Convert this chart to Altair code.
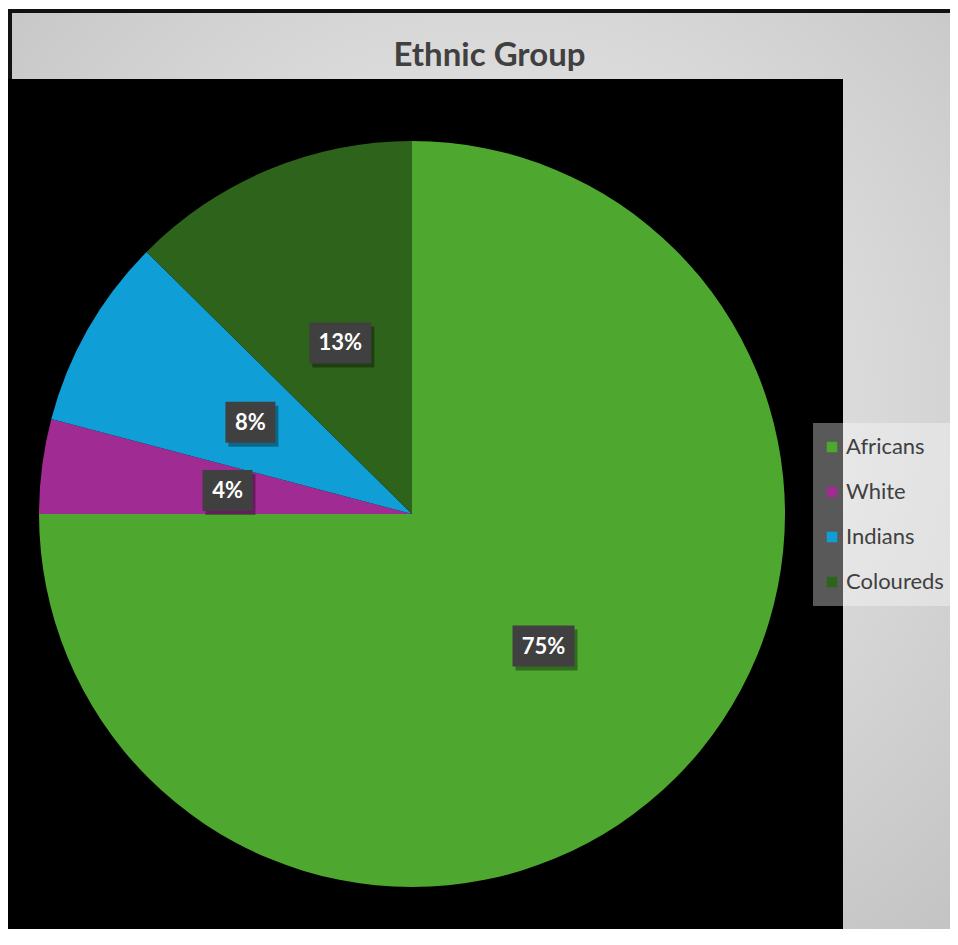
import altair as alt
import pandas as pd

# ---- data ----
groups = ["Africans", "White", "Indians", "Coloureds"]
shares = [75.0, 4.1, 8.3, 12.6]
label_text = ["75%", "4%", "8%", "13%"]
colors = ["#4EA72E", "#A02B93", "#0F9ED5", "#2E631B"]

df = pd.DataFrame({"group": groups, "share": shares, "label": label_text,
                   "idx": list(range(len(groups)))})

# ---- layout ----
W, H = 835, 850
CX, CY = 404, 435
R = 373
LR = 186

one = alt.Data(values=[{"k": 1}])

frame = alt.Chart(one).mark_rect(
    fill=alt.RadialGradient(
        gradient="radial",
        stops=[alt.GradientStop(color="#e6e6e6", offset=0),
               alt.GradientStop(color="#dadada", offset=0.5),
               alt.GradientStop(color="#c2c2c2", offset=1)],
        x1=0.5, y1=0.4, r1=0, x2=0.5, y2=0.4, r2=0.72),
    stroke="#111111", strokeWidth=4,
).encode(x=alt.value(2), x2=alt.value(980), y=alt.value(-68), y2=alt.value(920))

black = alt.Chart(one).mark_rect(fill="black").encode(
    x=alt.value(0), x2=alt.value(W), y=alt.value(0), y2=alt.value(H + 20))

base = alt.Chart(df).encode(
    theta=alt.Theta("share:Q", stack=True),
    order=alt.Order("idx:Q"),
)

pie = base.mark_arc(radius=R).encode(
    x=alt.value(CX), y=alt.value(CY),
    color=alt.Color(
        "group:N",
        scale=alt.Scale(domain=groups, range=colors),
        legend=alt.Legend(
            title=None, orient="none", legendX=805, legendY=344,
            fillColor="rgba(255,255,255,0.35)", padding=13,
            symbolType="square", symbolSize=110, symbolStrokeWidth=0,
            symbolOpacity=1, symbolOffset=-5,
            labelFont="Lato", labelFontSize=22, labelColor="#404040",
            labelOffset=3, rowPadding=23,
        ),
    ),
)


def box_chart(dx, dy, fill, opacity):
    return alt.Chart(df).transform_window(
        cum="sum(share)", sort=[alt.SortField("idx")], frame=[None, 0]
    ).transform_joinaggregate(total="sum(share)").transform_calculate(
        mid="(datum.cum - datum.share / 2) / datum.total * 2 * PI",
        bw="length(datum.label) > 2 ? 62 : 50",
        cx=f"{CX} + {LR} * sin(datum.mid) + {dx}",
        cy=f"{CY} - {LR} * cos(datum.mid) + {dy}",
        x0="datum.cx - datum.bw / 2",
        x1="datum.cx + datum.bw / 2",
        y0="datum.cy - 20",
        y1="datum.cy + 21",
    ).mark_rect(fill=fill, opacity=opacity).encode(
        x=alt.X("x0:Q", scale=None, axis=None),
        x2="x1:Q",
        y=alt.Y("y0:Q", scale=None, axis=None),
        y2="y1:Q",
    )


shadow = box_chart(3, 4, "black", 0.35)
boxes = box_chart(0, 0, "#404040", 1)

labels = base.mark_text(
    radius=LR, font="Lato", fontSize=22, fontWeight="bold", color="white", dy=1
).encode(text="label:N", x=alt.value(CX), y=alt.value(CY))

chart = alt.layer(frame, black, pie, shadow, boxes, labels).properties(
    width=W, height=H,
    padding={"left": 0, "top": 71, "right": 107, "bottom": 0},
    autosize=alt.AutoSizeParams(type="none"),
    title=alt.TitleParams(
        "Ethnic Group", font="Lato", fontSize=33, fontWeight="bold",
        color="#404040", anchor="middle", frame="group", dx=64, dy=102,
        baseline="alphabetic", offset=12,
    ),
).configure_view(stroke=None)

chart.save("out.html", embed_options={"renderer": "svg", "actions": False})
